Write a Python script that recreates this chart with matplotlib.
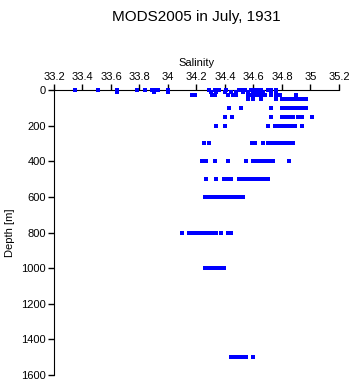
import matplotlib.pyplot as plt
import numpy as np

plt.rcParams['font.family'] = ['Liberation Sans', 'DejaVu Sans']

# salinity observations, grouped by standard depth (m)
s0 = [33.35, 33.51, 33.64, 33.78, 33.84, 33.89, 33.91, 33.93, 34.0, 34.29, 34.33,
      34.36, 34.41, 34.50, 34.52, 34.54, 34.58, 34.61, 34.63, 34.65, 34.70, 34.72, 34.76]
s10 = [33.64, 33.90, 34.0, 34.30, 34.34, 34.40, 34.44, 34.48, 34.53, 34.56, 34.60,
       34.62, 34.64, 34.67, 34.72, 34.76]
s30 = [34.17, 34.19, 34.31, 34.33, 34.42, 34.46, 34.48, 34.56, 34.58, 34.60, 34.62,
       34.64, 34.66, 34.68, 34.72, 34.76, 34.79, 34.90]
s50 = [34.56, 34.60, 34.65, 34.76, 34.80, 34.82, 34.84, 34.86, 34.88, 34.90, 34.92,
       34.94, 34.96, 34.97]
s100 = [34.43, 34.51, 34.72, 34.80, 34.82, 34.84, 34.86, 34.88, 34.90, 34.92, 34.94,
        34.95, 34.97]
s150 = [34.40, 34.45, 34.72, 34.80, 34.82, 34.84, 34.86, 34.88, 34.91, 34.94, 35.01]
s200 = [34.34, 34.40, 34.70, 34.75, 34.77, 34.79, 34.81, 34.83, 34.85, 34.87, 34.89, 34.94]
s300 = [34.25, 34.29, 34.59, 34.61, 34.67, 34.70, 34.72, 34.74, 34.76, 34.78, 34.80,
        34.82, 34.84, 34.86, 34.88]
s400 = [34.24, 34.27, 34.33, 34.42, 34.55, 34.60, 34.62, 34.64, 34.66, 34.68, 34.70,
        34.72, 34.74, 34.85]
s500 = [34.27, 34.34, 34.39, 34.41, 34.43, 34.44, 34.50, 34.52, 34.54, 34.56, 34.59,
        34.62, 34.64, 34.66, 34.68, 34.70]
s600 = [34.26, 34.28, 34.30, 34.32, 34.34, 34.36, 34.38, 34.41, 34.43, 34.46, 34.48,
        34.50, 34.53]
s800 = [34.10, 34.15, 34.17, 34.19, 34.21, 34.24, 34.26, 34.28, 34.30, 34.32, 34.34,
        34.37, 34.42, 34.44]
s1000 = [34.26, 34.28, 34.30, 34.32, 34.34, 34.36, 34.38, 34.39]
s1500 = [34.44, 34.46, 34.48, 34.50, 34.52, 34.55, 34.60]

depths = [0, 10, 30, 50, 100, 150, 200, 300, 400, 500, 600, 800, 1000, 1500]
salinity = [s0, s10, s30, s50, s100, s150, s200, s300, s400, s500, s600, s800, s1000, s1500]

x_ticks = [33.2, 33.4, 33.6, 33.8, 34, 34.2, 34.4, 34.6, 34.8, 35, 35.2]
x_labels = ['33.2', '33.4', '33.6', '33.8', '34', '34.2', '34.4', '34.6', '34.8', '35', '35.2']
y_ticks = [0, 200, 400, 600, 800, 1000, 1200, 1400, 1600]

fig = plt.figure(figsize=(3.53, 3.84), dpi=100)
ax = fig.add_axes([0.153, 0.0234, 0.807, 0.7422])

# points at the surface sit on the axis line, so draw them unclipped on top
for d, s in zip(depths, salinity):
    ax.plot(s, [d] * len(s), 's', color='#0000ff', ms=2.7, mew=0,
            clip_on=False, zorder=3)

ax.set_xlim(33.2, 35.2)
ax.set_ylim(1600, 0)
ax.xaxis.tick_top()
ax.xaxis.set_label_position('top')
ax.set_xticks(x_ticks)
ax.set_xticklabels(x_labels)
ax.set_yticks(y_ticks)
ax.tick_params(axis='both', labelsize=8, length=4, width=1, pad=2, direction='out')
ax.spines['right'].set_visible(False)
ax.spines['bottom'].set_visible(False)
ax.set_xlabel('Salinity', fontsize=8, labelpad=4)
ax.set_ylabel('Depth [m]', fontsize=8, labelpad=4)
fig.text(0.555, 0.955, 'MODS2005 in July, 1931', ha='center', va='center', fontsize=11)

plt.savefig('out.png', dpi=100)
